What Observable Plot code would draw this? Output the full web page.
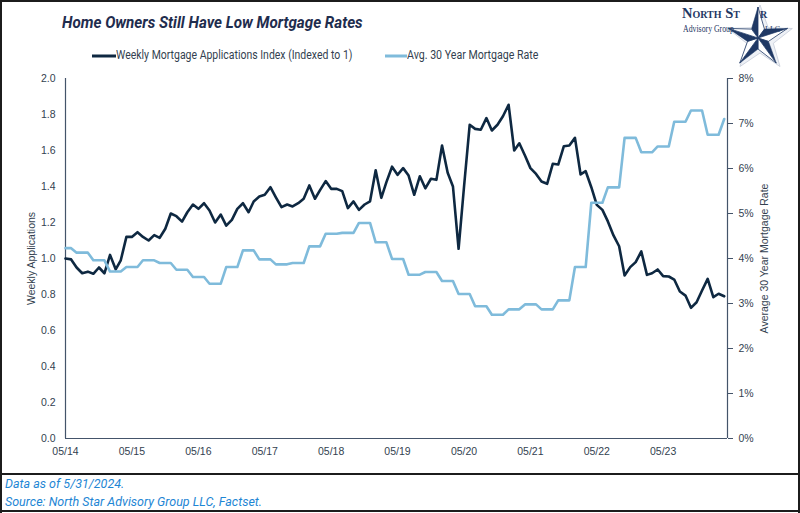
<!DOCTYPE html>
<html><head><meta charset="utf-8">
<script src="https://cdn.jsdelivr.net/npm/d3@7"></script>
<script src="https://cdn.jsdelivr.net/npm/@observablehq/plot@0.6"></script>
<style>
body{margin:0;background:#fff;}
#page{position:relative;width:800px;height:513px;overflow:hidden;font-family:Roboto,"Liberation Sans",sans-serif;background:#fff;}
.abs{position:absolute;white-space:nowrap;}
.bd{position:absolute;background:#1c1c1c;}
</style></head><body><div id="page">
<div class="bd" style="left:0;top:0;width:800px;height:2px"></div>
<div class="bd" style="left:0;top:0;width:2px;height:513px"></div>
<div class="bd" style="left:798px;top:0;width:2px;height:513px"></div>
<div class="bd" style="left:0;top:473px;width:800px;height:2px"></div>
<div class="bd" style="left:0;top:510px;width:800px;height:2px"></div>

<div class="abs" id="title" style="left:62px;top:13px;font-size:16.5px;font-weight:700;font-style:italic;color:#1f2d4e;transform:scaleX(0.92);transform-origin:left center;">Home Owners Still Have Low Mortgage Rates</div>

<svg class="abs" style="left:92px;top:54px" width="24" height="4"><line x1="0" y1="2" x2="24" y2="2" stroke="#0e2841" stroke-width="3"/></svg>
<div class="abs" style="left:116px;top:48px;font-size:12px;color:#333f50;transform:scaleX(0.873);transform-origin:left center;">Weekly Mortgage Applications Index (Indexed to 1)</div>
<svg class="abs" style="left:385px;top:54px" width="22" height="4"><line x1="0" y1="2" x2="22" y2="2" stroke="#7fbbdb" stroke-width="3"/></svg>
<div class="abs" style="left:407px;top:48px;font-size:12px;color:#333f50;transform:scaleX(0.885);transform-origin:left center;">Avg. 30 Year Mortgage Rate</div>

<svg class="abs" style="left:715px;top:0px" width="84" height="72" id="star"></svg>
<div class="abs" style="left:682px;top:5px;font-family:'Liberation Serif',serif;font-size:14.5px;font-weight:700;color:#1f3864;font-variant:small-caps;">North St</div>
<div class="abs" style="left:760px;top:5px;font-family:'Liberation Serif',serif;font-size:14.5px;font-weight:700;color:#1f3864;font-variant:small-caps;">r</div>
<div class="abs" style="left:683px;top:23px;font-family:'Liberation Serif',serif;font-size:10px;color:#1f3864;transform:scaleX(0.78);transform-origin:left center;">Advisory Group</div>
<div class="abs" style="left:765px;top:25px;font-family:'Liberation Serif',serif;font-size:8px;color:#1f3864;">LLC</div>

<div class="abs" id="chart" style="left:0;top:66px;"></div>

<div class="abs" style="left:5px;top:476px;font-size:12.5px;font-style:italic;color:#1e86d4;">Data as of 5/31/2024.</div>
<div class="abs" style="left:5px;top:494px;font-size:12.5px;font-style:italic;color:#1e86d4;">Source: North Star Advisory Group LLC, Factset.</div>
</div>
<script>
// Weekly Mortgage Applications Index (indexed to 1), monthly from May 2014
const applications = [
1.00,0.995,0.95,0.918,0.927,0.915,0.95,0.918,1.02,0.94,
0.99,1.12,1.12,1.146,1.12,1.10,1.13,1.115,1.165,1.25,
1.235,1.205,1.257,1.30,1.276,1.307,1.267,1.20,1.244,1.183,
1.215,1.276,1.307,1.257,1.317,1.344,1.354,1.396,1.34,1.285,
1.30,1.289,1.307,1.332,1.406,1.332,1.38,1.43,1.387,1.387,
1.374,1.28,1.317,1.27,1.30,1.318,1.49,1.337,1.424,1.51,
1.465,1.502,1.461,1.354,1.457,1.39,1.443,1.437,1.628,1.476,
1.40,1.054,1.40,1.743,1.72,1.715,1.78,1.711,1.743,1.79,
1.854,1.60,1.64,1.572,1.502,1.47,1.428,1.415,1.526,1.522,
1.624,1.628,1.67,1.467,1.485,1.396,1.298,1.27,1.206,1.128,
1.068,0.906,0.952,0.98,1.039,0.909,0.918,0.939,0.902,0.90,
0.883,0.817,0.794,0.726,0.757,0.822,0.887,0.785,0.804,0.79
];
// Avg. 30 Year Mortgage Rate (%), monthly from May 2014
const rates = [
4.23,4.23,
4.13,4.13,4.13, 3.96,3.96,3.96, 3.71,3.71,3.71, 3.81,3.81,3.81,
3.96,3.96,3.96, 3.90,3.90,3.90, 3.75,3.75,3.75, 3.59,3.59,3.59,
3.44,3.44,3.44, 3.81,3.81,3.81, 4.18,4.18,4.18, 3.98,3.98,3.98,
3.87,3.87,3.87, 3.90,3.90,3.90, 4.27,4.27,4.27, 4.55,4.55,4.55,
4.57,4.57,4.57, 4.79,4.79,4.79, 4.36,4.36,4.36, 3.99,3.99,3.99,
3.64,3.64,3.64, 3.70,3.70,3.70, 3.50,3.50,3.50, 3.21,3.21,3.21,
2.94,2.94,2.94, 2.75,2.75,2.75, 2.87,2.87,2.87, 2.98,2.98,2.98,
2.87,2.87,2.87, 3.07,3.07,3.07, 3.81,3.81,3.81, 5.24,5.24,5.24,
5.58,5.58,5.58, 6.68,6.68,6.68, 6.36,6.36,6.36, 6.49,6.49,6.49,
7.04,7.04,7.04, 7.29,7.29,7.29, 6.75,6.75,6.75,
7.10
];
const tickYears = [2014,2015,2016,2017,2018,2019,2020,2021,2022,2023];
const leftTicks = [0,0.2,0.4,0.6,0.8,1.0,1.2,1.4,1.6,1.8,2.0];
const rightTicks = [0,1,2,3,4,5,6,7,8];

const start = new Date(Date.UTC(2014,4,1));
const dates = applications.map((_, i) => d3.utcMonth.offset(start, i));
const data = applications.map((v, i) => ({date: dates[i], apps: v, rate: rates[i]}));
const k = 2 / 8; // right axis (0-8%) mapped onto left axis (0-2)
const xDomain = [start, new Date(Date.UTC(2024,3,19))];
const axisColor = "#44546a";
const textColor = "#333f50";

const chart = Plot.plot({
  width: 800, height: 400,
  marginTop: 12, marginBottom: 28, marginLeft: 65, marginRight: 73,
  style: {fontFamily: "'Liberation Sans', Arial, sans-serif", fontSize: "10.5px", color: textColor, background: "transparent"},
  x: {type: "utc", domain: xDomain},
  y: {domain: [0, 2]},
  marks: [
    Plot.axisY({anchor: "left", ticks: leftTicks, tickSize: 0, tickPadding: 10, tickFormat: d3.format(".1f"),
      label: "Weekly Applications", labelAnchor: "center", labelArrow: "none", labelOffset: 38}),
    Plot.axisY({anchor: "right", ticks: rightTicks.map(t => t * k), tickSize: 5, tickPadding: 6, stroke: axisColor,
      tickFormat: d => Math.round(d / k) + "%",
      label: "Average 30 Year Mortgage Rate", labelAnchor: "center", labelArrow: "none", labelOffset: 40}),
    Plot.axisX({ticks: tickYears.map(y => new Date(Date.UTC(y,4,1))), tickSize: 0, tickPadding: 9,
      tickFormat: d3.utcFormat("%m/%y"), label: null}),
    Plot.ruleX([xDomain[0]], {stroke: axisColor, strokeWidth: 1.2}),
    Plot.ruleX([xDomain[1]], {stroke: axisColor, strokeWidth: 1.2}),
    Plot.ruleY([0], {stroke: axisColor, strokeWidth: 1.2}),
    Plot.line(data, {x: "date", y: "apps", stroke: "#0e2841", strokeWidth: 2.6}),
    Plot.line(data, {x: "date", y: d => d.rate * k, stroke: "#7fbbdb", strokeWidth: 2.6})
  ]
});
document.getElementById("chart").appendChild(chart);

// logo star (decoration)
(function(){
  const svg = d3.select("#star");
  const cx = 43, cy = 38, R = 31, r = 11;
  const pts = [];
  for (let i = 0; i < 10; i++) {
    const a = (-90 + i * 36) * Math.PI / 180, rr = (i % 2 ? r : R) + 3;
    pts.push([cx + rr * Math.cos(a) + 2, cy + rr * Math.sin(a) + 1]);
  }
  svg.append("polygon").attr("points", pts.join(" ")).attr("fill", "#eef1f6").attr("stroke", "#c5ccd8").attr("stroke-width", 0.8);
  for (let i = 0; i < 5; i++) {
    const a = (-90 + i * 72) * Math.PI / 180;
    const al = a - 36 * Math.PI / 180, ar = a + 36 * Math.PI / 180;
    const tip = [cx + R * Math.cos(a), cy + R * Math.sin(a)];
    const L = [cx + r * Math.cos(al), cy + r * Math.sin(al)];
    const Rr = [cx + r * Math.cos(ar), cy + r * Math.sin(ar)];
    svg.append("polygon").attr("points", [[cx,cy],L,tip].join(" ")).attr("fill", "#1f3864").attr("stroke","#1f3864").attr("stroke-width",0.5);
    svg.append("polygon").attr("points", [[cx,cy],tip,Rr].join(" ")).attr("fill", "#ffffff").attr("stroke","#1f3864").attr("stroke-width",0.8);
  }
})();
</script>
</body></html>
